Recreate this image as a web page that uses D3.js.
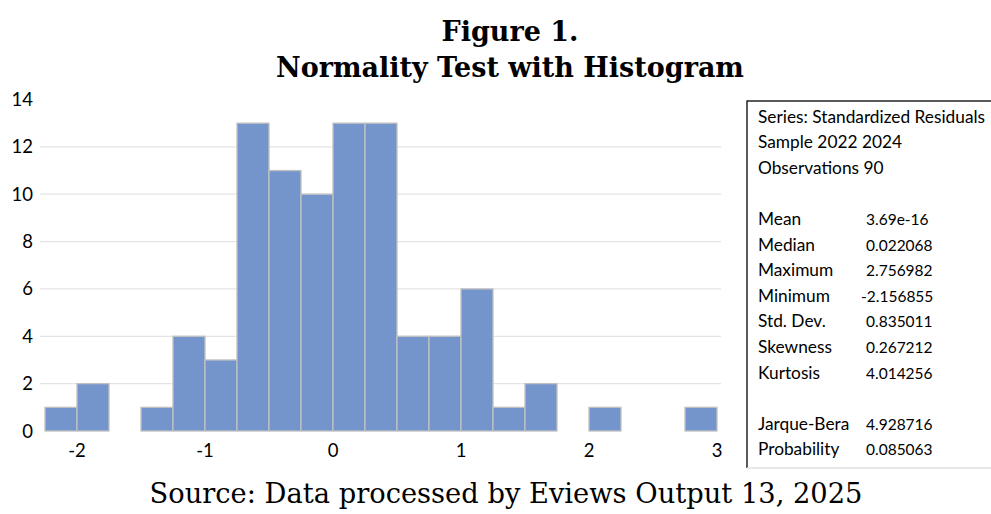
<!DOCTYPE html>
<html><head><meta charset="utf-8">
<script src="https://cdn.jsdelivr.net/npm/d3@7"></script>
<style>body{margin:0;background:#fff}svg{display:block}</style>
</head><body>
<svg id="c" width="991" height="514"></svg>
<script>
const binStarts = [-2.25,-2.0,-1.75,-1.5,-1.25,-1.0,-0.75,-0.5,-0.25,0,0.25,0.5,0.75,1.0,1.25,1.5,1.75,2.0,2.25,2.5,2.75];
const counts    = [1,2,0,1,4,3,13,11,10,13,13,4,4,6,1,2,0,1,0,0,1];
const binWidth = 0.25;
const xTicks = [-2,-1,0,1,2,3];
const yTicks = [0,2,4,6,8,10,12,14];
const titleLines = ["Figure 1.", "Normality Test with Histogram"];
const sourceText = "Source: Data processed by Eviews Output 13, 2025";
const statsHeader = ["Series: Standardized Residuals", "Sample 2022 2024", "Observations 90"];
const statLabels = ["Mean","Median","Maximum","Minimum","Std. Dev.","Skewness","Kurtosis"];
const statValues = ["3.69e-16","0.022068","2.756982","-2.156855","0.835011","0.267212","4.014256"];
const testLabels = ["Jarque-Bera","Probability"];
const testValues = ["4.928716","0.085063"];

const svg = d3.select("#c");
const x = d3.scaleLinear().domain([-2.25, 3]).range([45, 717]);
const y = d3.scaleLinear().domain([0, 14]).range([431, 99.5]);

// gridlines
svg.append("g").selectAll("line").data(yTicks.filter(d => d > 0 && d < 14)).join("line")
  .attr("x1", 40).attr("x2", 721)
  .attr("y1", d => y(d)).attr("y2", d => y(d))
  .attr("stroke", "#e4e4e4").attr("stroke-width", 1.3);

// bars
const bins = binStarts.map((s, i) => ({s, c: counts[i]})).filter(d => d.c > 0);
svg.append("g").selectAll("rect").data(bins).join("rect")
  .attr("x", d => x(d.s)).attr("width", d => x(d.s + binWidth) - x(d.s))
  .attr("y", d => y(d.c)).attr("height", d => y(0) - y(d.c))
  .attr("fill", "#7395cc").attr("stroke", "#c0c0c0").attr("stroke-width", 1.3);

const axisFont = "Lato, 'Open Sans', sans-serif";
// y labels
svg.append("g").selectAll("text").data(yTicks).join("text")
  .attr("x", 33).attr("y", d => y(d) + 6.5)
  .attr("text-anchor", "end").attr("font-family", axisFont).attr("font-size", 18.5).attr("fill", "#000")
  .text(d => d);
// x labels
svg.append("g").selectAll("text").data(xTicks).join("text")
  .attr("x", d => x(d)).attr("y", 457)
  .attr("text-anchor", "middle").attr("font-family", axisFont).attr("font-size", 18.5).attr("fill", "#000")
  .text(d => d);

// titles
const serif = "'DejaVu Serif', 'Liberation Serif', serif";
svg.append("g").selectAll("text").data(titleLines).join("text")
  .attr("x", 510).attr("y", (d, i) => 41 + i * 36)
  .attr("text-anchor", "middle").attr("font-family", serif).attr("font-weight", "bold")
  .attr("font-size", 27).attr("fill", "#000")
  .text(d => d);
svg.append("text").attr("x", 506).attr("y", 503)
  .attr("text-anchor", "middle").attr("font-family", serif).attr("font-size", 27.3).attr("fill", "#000")
  .text(sourceText);

// stats box
svg.append("line").attr("x1", 747).attr("x2", 991).attr("y1", 101).attr("y2", 101).attr("stroke", "#222").attr("stroke-width", 1.3);
svg.append("line").attr("x1", 747).attr("x2", 747).attr("y1", 100.5).attr("y2", 468).attr("stroke", "#222").attr("stroke-width", 1.5);
svg.append("line").attr("x1", 747).attr("x2", 991).attr("y1", 468).attr("y2", 468).attr("stroke", "#e0e0e0").attr("stroke-width", 1.3);

const boxFont = "Lato, 'Open Sans', sans-serif";
const lh = 25.6;
const rows = [];
statsHeader.forEach((t, i) => rows.push({l: t, v: null, r: i}));
statLabels.forEach((t, i) => rows.push({l: t, v: statValues[i], r: 4 + i}));
testLabels.forEach((t, i) => rows.push({l: t, v: testValues[i], r: 12 + i}));
const g = svg.append("g").attr("font-family", boxFont).attr("fill", "#000");
g.selectAll("text.l").data(rows).join("text").attr("class", "l")
  .attr("x", 758).attr("y", d => 122.5 + d.r * lh).attr("font-size", 17.3).text(d => d.l);
g.selectAll("text.v").data(rows.filter(d => d.v)).join("text").attr("class", "v")
  .attr("x", 866).attr("dx", d => d.v.startsWith("-") ? -5 : 0)
  .attr("y", d => 122.5 + d.r * lh).attr("font-size", 15.5).text(d => d.v);
</script>
</body></html>
